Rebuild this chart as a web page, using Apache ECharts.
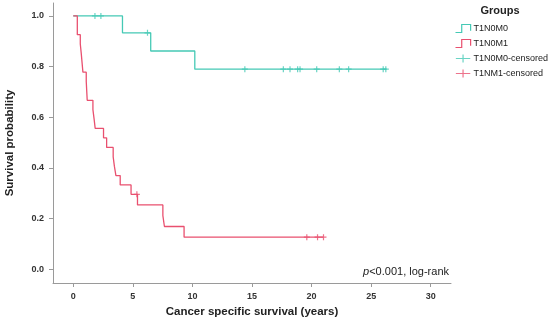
<!DOCTYPE html>
<html><head><meta charset="utf-8">
<script src="https://cdn.jsdelivr.net/npm/echarts@6/dist/echarts.min.js"></script>
<style>html,body{margin:0;padding:0;background:#fff}#c{width:550px;height:326px}</style>
</head><body><div id="c"></div>
<script>
// Kaplan-Meier step points [time (years), survival]
const m0Curve = [[0,1],[4.13,0.9333],[6.5,0.8615],[10.2,0.7897],[26.3,0.7897]];
const m1Curve = [[0,1],[0.34,0.926],[0.59,0.889],[0.67,0.852],[0.81,0.778],[1.09,0.741],[1.17,0.667],
  [1.65,0.630],[1.75,0.593],[1.84,0.556],[2.54,0.519],[2.80,0.481],[3.35,0.444],[3.45,0.407],[3.58,0.370],
  [3.94,0.333],[4.85,0.296],[5.39,0.254],[7.52,0.212],[7.65,0.169],[9.30,0.127],[21.0,0.127]];
const m0Censored = [[1.82,1],[2.32,1],[6.23,0.9333],[14.4,0.7897],[17.63,0.7897],[18.19,0.7897],[18.83,0.7897],
  [19.03,0.7897],[20.43,0.7897],[22.33,0.7897],[23.11,0.7897],[26.01,0.7897],[26.23,0.7897]];
const m1Censored = [[5.34,0.296],[19.6,0.127],[20.5,0.127],[21.0,0.127]];
const xTicks = [0,5,10,15,20,25,30];
const yTicks = [0,0.2,0.4,0.6,0.8,1.0];
const seriesNames = ['T1N0M0','T1N0M1','T1N0M0-censored','T1NM1-censored'];

const TEAL = '#45c9b5', RED = '#e9506f', AXIS = '#9a9a9a';
const FONT = 'Arial, "Liberation Sans", sans-serif';
const plus = 'path://M5,0L5,10M0,5L10,5';
const stepIcon = 'path://M0,10L7,10L7,1L17,1L17,8';
const plusIcon = 'path://M0,5L18,5M9,0L9,10';

const chart = echarts.init(document.getElementById('c'), null, {renderer:'canvas'});
chart.setOption({
  animation:false,
  backgroundColor:'#fff',
  title:{text:'Groups', left:500, top:5, textAlign:'center', padding:0,
    textStyle:{fontFamily:FONT, fontWeight:'bold', fontSize:11, color:'#222'}},
  legend:{orient:'vertical', left:453, top:22, padding:0, itemGap:2, itemWidth:17, itemHeight:8,
    selectedMode:false,
    textStyle:{fontFamily:FONT, fontSize:9, color:'#222', padding:[0,0,0,-3]},
    data:[
      {name:seriesNames[0], icon:stepIcon, itemStyle:{color:'none', borderColor:TEAL, borderWidth:1.2}},
      {name:seriesNames[1], icon:stepIcon, itemStyle:{color:'none', borderColor:RED, borderWidth:1.2}},
      {name:seriesNames[2], icon:plusIcon, itemStyle:{color:'none', borderColor:TEAL, borderWidth:1.2}},
      {name:seriesNames[3], icon:plusIcon, itemStyle:{color:'none', borderColor:RED, borderWidth:1.2}}
    ]},
  grid:{left:53, right:99, top:3, bottom:43, containLabel:false, outerBoundsMode:'none'},
  xAxis:{type:'value', min:-1.7, max:31.7,
    name:'Cancer specific survival (years)', nameLocation:'middle', nameGap:23,
    nameTextStyle:{fontFamily:FONT, fontWeight:'bold', fontSize:11.5, color:'#222'},
    axisLine:{show:true, onZero:false, lineStyle:{color:AXIS, width:1}},
    axisTick:{show:true, length:4, customValues:xTicks, lineStyle:{color:AXIS}},
    axisLabel:{customValues:xTicks, margin:9, fontFamily:FONT, fontWeight:'bold', fontSize:9, color:'#333'},
    splitLine:{show:false}},
  yAxis:{type:'value', min:-0.054, max:1.051,
    name:'Survival probability', nameLocation:'middle', nameGap:37, nameRotate:90,
    nameTextStyle:{fontFamily:FONT, fontWeight:'bold', fontSize:11.5, color:'#222'},
    axisLine:{show:true, onZero:false, lineStyle:{color:AXIS, width:1}},
    axisTick:{show:true, length:4, customValues:yTicks, lineStyle:{color:AXIS}},
    axisLabel:{customValues:yTicks, margin:9, fontFamily:FONT, fontWeight:'bold', fontSize:9, color:'#333',
      formatter:v=>v.toFixed(1)},
    splitLine:{show:false}},
  graphic:[{type:'text', right:101, top:266,
    style:{rich:{i:{fontStyle:'italic', fontFamily:FONT, fontSize:11, fill:'#222'},
                 n:{fontFamily:FONT, fontSize:11, fill:'#222'}},
      text:'{i|p}{n|<0.001, log-rank}'}}],
  series:[
    {name:seriesNames[0], type:'line', step:'end', data:m0Curve, showSymbol:false, symbol:'none',
      lineStyle:{color:TEAL, width:1.3}, itemStyle:{color:TEAL}, z:3},
    {name:seriesNames[1], type:'line', step:'end', data:m1Curve, showSymbol:false, symbol:'none',
      lineStyle:{color:RED, width:1.3}, itemStyle:{color:RED}, z:3},
    {name:seriesNames[2], type:'scatter', data:m0Censored, symbol:plus, symbolSize:6,
      itemStyle:{color:'none', borderColor:TEAL, borderWidth:1.2}, z:4},
    {name:seriesNames[3], type:'scatter', data:m1Censored, symbol:plus, symbolSize:6,
      itemStyle:{color:'none', borderColor:RED, borderWidth:1.2}, z:4}
  ]
});
</script></body></html>
